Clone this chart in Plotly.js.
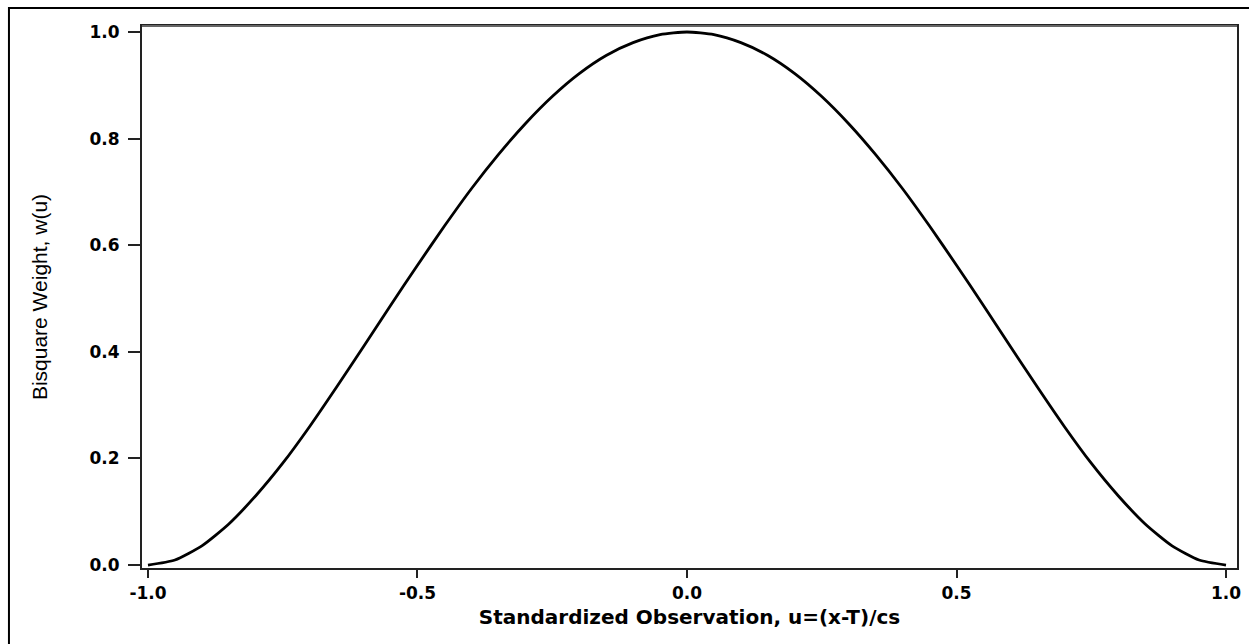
<!DOCTYPE html>
<html>
<head>
<meta charset="utf-8">
<script src="https://cdn.plot.ly/plotly-3.0.1.min.js"></script>
<style>html,body{margin:0;padding:0;background:#fff;}#chart{width:1249px;height:644px;}</style>
</head>
<body>
<div id="chart"></div>
<script>
// Standardized observation u (x values)
const uValues = [-1.0, -0.95, -0.9, -0.85, -0.8, -0.75, -0.7, -0.65, -0.6, -0.55, -0.5, -0.45, -0.4, -0.35, -0.3, -0.25, -0.2, -0.15, -0.1, -0.05,
  0.0, 0.05, 0.1, 0.15, 0.2, 0.25, 0.3, 0.35, 0.4, 0.45, 0.5, 0.55, 0.6, 0.65, 0.7, 0.75, 0.8, 0.85, 0.9, 0.95, 1.0];
// Bisquare weight w(u)
const weightValues = [0.0, 0.0095, 0.036, 0.077, 0.130, 0.191, 0.260, 0.334, 0.410, 0.487, 0.5625, 0.636, 0.706, 0.770, 0.828, 0.879, 0.922, 0.956, 0.980, 0.995,
  1.0, 0.995, 0.980, 0.956, 0.922, 0.879, 0.828, 0.770, 0.706, 0.636, 0.5625, 0.487, 0.410, 0.334, 0.260, 0.191, 0.130, 0.077, 0.036, 0.0095, 0.0];
const xTickVals = [-1.0, -0.5, 0.0, 0.5, 1.0];
const xTickText = ['-1.0', '-0.5', '0.0', '0.5', '1.0'];
const yTickVals = [0.0, 0.2, 0.4, 0.6, 0.8, 1.0];
const yTickText = ['0.0', '0.2', '0.4', '0.6', '0.8', '1.0'];

const trace = {
  x: uValues, y: weightValues, type: 'scatter', mode: 'lines',
  line: {color: '#000', width: 2.8, shape: 'spline', smoothing: 0.6},
  hoverinfo: 'skip'
};

const tickFont = {family: 'DejaVu Sans, Verdana, sans-serif', size: 17, color: '#000', weight: 'bold'};

const layout = {
  width: 1249, height: 644,
  margin: {l: 142, r: 12, t: 26, b: 76, pad: 0},
  paper_bgcolor: '#fff', plot_bgcolor: '#fff',
  showlegend: false,
  xaxis: {
    range: [-1.0111, 1.0204], tickvals: xTickVals, ticktext: xTickText,
    ticks: 'outside', ticklen: 8, tickwidth: 2, tickcolor: '#222',
    showline: true, linecolor: '#222', linewidth: 2, mirror: true,
    showgrid: false, zeroline: false,
    tickfont: tickFont, ticklabelstandoff: 1,
    title: {text: 'Standardized Observation, u=(x-T)/cs', font: {family: 'DejaVu Sans, Verdana, sans-serif', size: 20, color: '#000', weight: 'bold'}, standoff: 8}
  },
  yaxis: {
    range: [-0.0056, 1.0113], tickvals: yTickVals, ticktext: yTickText,
    ticks: 'outside', ticklen: 12, tickwidth: 2, tickcolor: '#222',
    showline: true, linecolor: '#222', linewidth: 2, mirror: true,
    showgrid: false, zeroline: false,
    tickfont: tickFont, ticklabelstandoff: 5,
    title: {text: 'Bisquare Weight, w(u)', font: {family: 'Liberation Sans, Arial, sans-serif', size: 21, color: '#000'}, standoff: 36}
  },
  shapes: [
    {type: 'line', xref: 'paper', yref: 'paper', x0: 0, x1: 1, y0: 1, y1: 1, line: {color: '#666', width: 2}},
    {type: 'rect', xref: 'paper', yref: 'paper', x0: -0.1215, x1: 1.3, y0: -0.3, y1: 1.0332, line: {color: '#000', width: 2}, layer: 'above'}
  ]
};

Plotly.newPlot('chart', [trace], layout, {staticPlot: true, displayModeBar: false});
</script>
</body>
</html>
